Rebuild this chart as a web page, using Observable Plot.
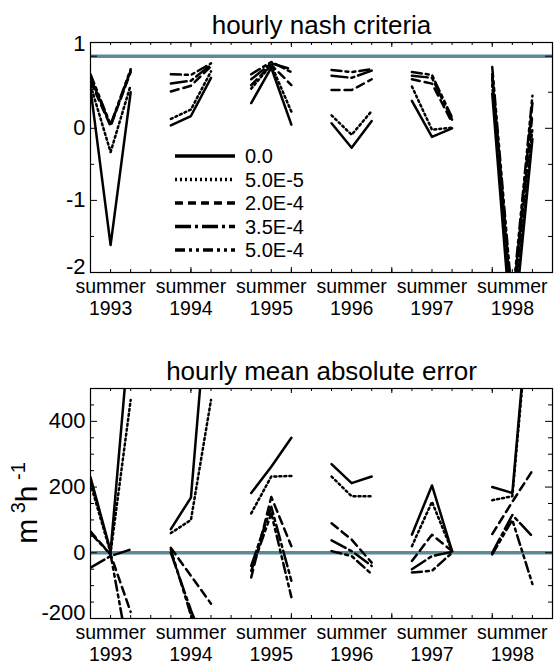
<!DOCTYPE html>
<html><head><meta charset="utf-8">
<script src="https://cdn.jsdelivr.net/npm/d3@7"></script>
<script src="https://cdn.jsdelivr.net/npm/@observablehq/plot@0.6"></script>
<style>
body{margin:0;background:#fff;}
#wrap{position:relative;width:556px;height:661px;overflow:hidden;background:#fff;}
#wrap svg{position:absolute;left:0;display:block;}
</style></head><body><div id="wrap"></div>
<script>
// ---- data ----
const years = [1993, 1994, 1995, 1996, 1997, 1998];
const seriesNames = ["0.0", "5.0E-5", "2.0E-4", "3.5E-4", "5.0E-4"];
// hourly nash criteria, 3 summer values per year
const nash_0_0   = [0.55,-1.62,0.50, 0.04,0.17,0.70, 0.35,0.84,0.05, 0.07,-0.27,0.10, 0.38,-0.12,0.00, 0.48,-3.00,-0.15];
const nash_5_0e5 = [0.60,-0.33,0.60, 0.13,0.26,0.79, 0.55,0.88,0.23, 0.18,-0.09,0.24, 0.58,-0.02,0.01, 0.60,-2.80,0.00];
const nash_2_0e4 = [0.65,0.03,0.78, 0.51,0.59,0.86, 0.60,0.88,0.60, 0.53,0.53,0.68, 0.68,0.62,0.08, 0.70,-2.60,0.20];
const nash_3_5e4 = [0.70,0.04,0.80, 0.62,0.66,0.88, 0.68,0.90,0.82, 0.73,0.70,0.80, 0.73,0.70,0.12, 0.75,-2.50,0.35];
const nash_5_0e4 = [0.75,0.05,0.82, 0.75,0.74,0.90, 0.75,0.92,0.78, 0.81,0.78,0.82, 0.78,0.74,0.15, 0.85,-2.40,0.45];
// hourly mean absolute error (m3/h)
const mae_0_0   = [230,5,710, 72,168,900, 182,262,350, 270,212,232, 55,205,5, 200,182,880];
const mae_5_0e5 = [210,0,465, 60,100,465, 120,232,234, 232,172,172, 20,155,5, 160,172,850];
const mae_2_0e4 = [65,-5,-180, 15,-70,-155, -75,170,20, 90,40,-30, -25,55,5, 57,155,250];
const mae_3_5e4 = [-45,-10,10, 0,-175,-330, -40,140,-85, 38,5,-40, -50,-10,3, 0,115,50];
const mae_5_0e4 = [60,-5,-340, 10,-190,-380, -55,120,-135, 5,-10,-65, -60,-55,0, -5,100,-95];
const nashRef = 1;
const maeRef = 0;

// ---- styles ----
const teal = "#5b8b97";
const dashes = [null, "2,3", "8,5", "16,4,3,4", "10,4,3,4,3,4"];
const FONT = "'Liberation Sans', Arial, sans-serif";
const fmt = d => String(d);

function rows(values) {
  return values.map((v, i) => ({x: Math.floor(i / 3) * 4 + (i % 3), y: v, year: years[Math.floor(i / 3)]}));
}

function panel({series, yDomain, yMajor, yMinor, yLabelsMid, yLabelBottom, yLabelTop, ref, title, height, marginTop, marginBottom}) {
  const W = 556, ML = 90, MR = 4;
  const fw = W - ML - MR, fh = height - marginTop - marginBottom;
  const xMinor = d3.range(0, 24, 1), xMajor = d3.range(0, 24, 5);
  const labelPos = years.map((y, i) => i * 4 + 1);
  const marks = [
    Plot.ruleY([ref], {stroke: teal, strokeWidth: 3.5}),
    ...series.map((vals, k) => Plot.line(rows(vals), {x: "x", y: "y", z: "year", stroke: "black", strokeWidth: 2.5, strokeDasharray: dashes[k], clip: true})),
    Plot.ruleX(xMinor, {x: d => d, insetTop: fh - 3, stroke: "black"}),
    Plot.ruleX(xMajor, {x: d => d, insetTop: fh - 5, stroke: "black"}),
    Plot.ruleX(xMinor, {x: d => d, insetBottom: fh - 3, stroke: "black"}),
    Plot.ruleX(xMajor, {x: d => d, insetBottom: fh - 5, stroke: "black"}),
    Plot.ruleY(yMinor, {y: d => d, insetRight: fw - 4, stroke: "black"}),
    Plot.ruleY(yMajor, {y: d => d, insetRight: fw - 7, stroke: "black"}),
    Plot.ruleY(yMinor, {y: d => d, insetLeft: fw - 4, stroke: "black"}),
    Plot.ruleY(yMajor, {y: d => d, insetLeft: fw - 7, stroke: "black"}),
    Plot.frame({stroke: "black", strokeWidth: 1.2}),
    Plot.axisX(labelPos, {anchor: "bottom", tickSize: 0, tickPadding: 5, fontSize: 19.5, lineHeight: 1.12,
      tickFormat: d => "summer\n" + years[(d - 1) / 4], label: null}),
    Plot.axisY(yLabelsMid, {anchor: "left", tickSize: 0, tickPadding: 5, fontSize: 22, tickFormat: fmt, label: null}),
    Plot.axisY([yLabelBottom], {anchor: "left", tickSize: 0, tickPadding: 5, fontSize: 22, dy: -6, tickFormat: fmt, label: null}),
    Plot.text([title], {frameAnchor: "top", dy: -17, fontSize: 26, lineAnchor: "middle"})
  ];
  if (yLabelTop != null) marks.push(Plot.axisY([yLabelTop], {anchor: "left", tickSize: 0, tickPadding: 5, fontSize: 22, dy: -12, tickFormat: fmt, label: null}));
  return Plot.plot({
    width: W, height, marginLeft: ML, marginRight: MR, marginTop, marginBottom,
    x: {domain: [0, 23], axis: null},
    y: {domain: yDomain, axis: null},
    style: {fontFamily: FONT, color: "black", background: "white", overflow: "visible"},
    marks
  });
}

const wrap = document.getElementById("wrap");

const svg1 = panel({
  series: [nash_0_0, nash_5_0e5, nash_2_0e4, nash_3_5e4, nash_5_0e4],
  yDomain: [-2, 1.19],
  yMajor: [-1, 0, 1],
  yMinor: [-1.5, -0.5, 0.5],
  yLabelsMid: [-1, 0],
  yLabelBottom: -2,
  yLabelTop: 1,
  ref: nashRef,
  title: "hourly nash criteria",
  height: 330, marginTop: 42, marginBottom: 58
});
svg1.style.top = "0px";
wrap.appendChild(svg1);

// legend
const lg = d3.select(svg1).append("g").attr("font-family", FONT).attr("font-size", 20).attr("text-anchor", "start");
seriesNames.forEach((name, k) => {
  const y = 156 + k * 23.5;
  lg.append("line").attr("x1", 175).attr("x2", 235).attr("y1", y).attr("y2", y)
    .attr("stroke", "black").attr("stroke-width", 3.5).attr("stroke-dasharray", dashes[k]);
  lg.append("text").attr("x", 245).attr("y", y).attr("dy", "0.35em").attr("text-anchor", "start").attr("fill", "black").text(name);
});

const svg2 = panel({
  series: [mae_0_0, mae_5_0e5, mae_2_0e4, mae_3_5e4, mae_5_0e4],
  yDomain: [-200, 500],
  yMajor: [0, 200, 400],
  yMinor: d3.range(-150, 500, 50).filter(v => v % 200 !== 0),
  yLabelsMid: [0, 200, 400],
  yLabelBottom: -200,
  yLabelTop: null,
  ref: maeRef,
  title: "hourly mean absolute error",
  height: 331, marginTop: 58, marginBottom: 43
});
svg2.style.top = "330px";
wrap.appendChild(svg2);

// rotated unit label
const yl = d3.select(svg2).append("text")
  .attr("transform", "translate(37,173) rotate(-90)")
  .attr("text-anchor", "middle").attr("font-family", FONT).attr("font-size", 30).attr("fill", "black");
yl.append("tspan").text("m");
yl.append("tspan").attr("font-size", 20).attr("dy", -12).text(" 3");
yl.append("tspan").attr("dy", 12).text("h");
yl.append("tspan").attr("font-size", 20).attr("dy", -12).text(" -1");
</script></body></html>
